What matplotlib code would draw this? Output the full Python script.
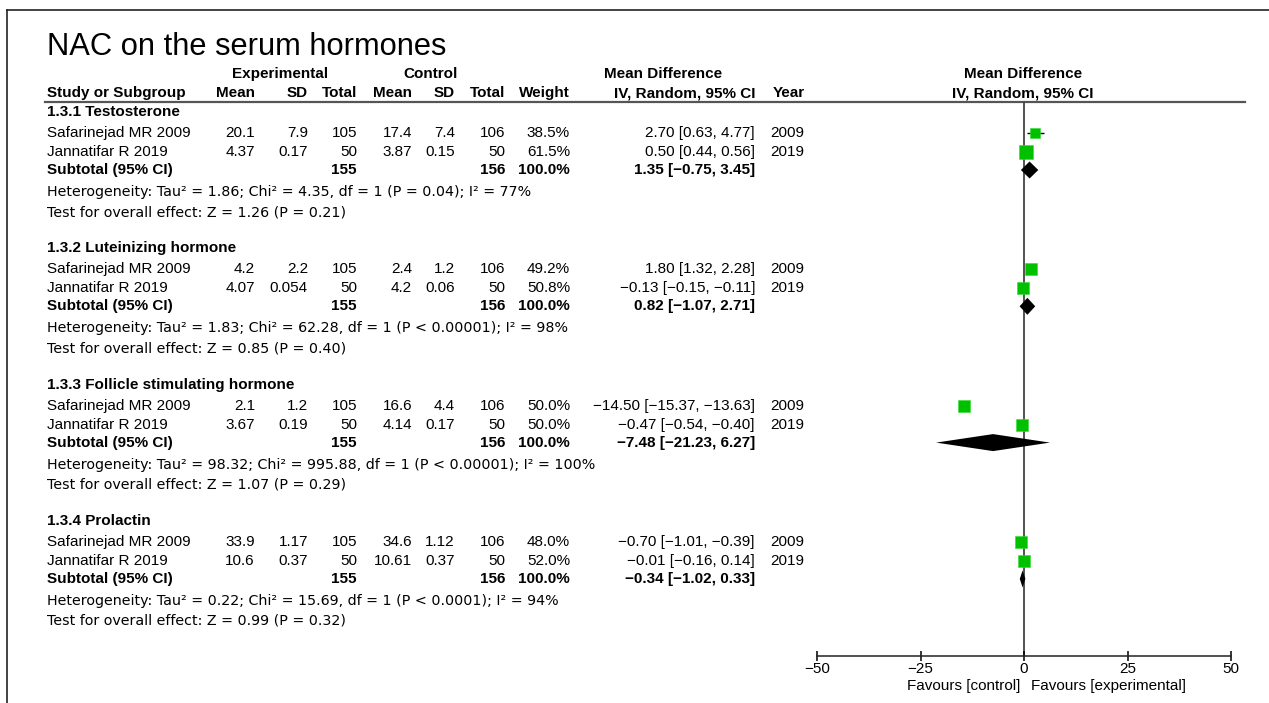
import numpy as np
import matplotlib
matplotlib.use('Agg')
import matplotlib.pyplot as plt

plt.rcParams['font.family'] = ['Liberation Sans', 'DejaVu Sans']

# ---- data ----
groups = ['1.3.1 Testosterone', '1.3.2 Luteinizing hormone',
          '1.3.3 Follicle stimulating hormone', '1.3.4 Prolactin']
studies = ['Safarinejad MR 2009', 'Jannatifar R 2019']
years = [2009, 2019]

exp_mean = [[20.1, 4.37], [4.2, 4.07], [2.1, 3.67], [33.9, 10.6]]
exp_sd = [[7.9, 0.17], [2.2, 0.054], [1.2, 0.19], [1.17, 0.37]]
exp_n = [[105, 50], [105, 50], [105, 50], [105, 50]]
ctrl_mean = [[17.4, 3.87], [2.4, 4.2], [16.6, 4.14], [34.6, 10.61]]
ctrl_sd = [[7.4, 0.15], [1.2, 0.06], [4.4, 0.17], [1.12, 0.37]]
ctrl_n = [[106, 50], [106, 50], [106, 50], [106, 50]]
weight = [[38.5, 61.5], [49.2, 50.8], [50.0, 50.0], [48.0, 52.0]]

md = [[2.70, 0.50], [1.80, -0.13], [-14.50, -0.47], [-0.70, -0.01]]
md_lo = [[0.63, 0.44], [1.32, -0.15], [-15.37, -0.54], [-1.01, -0.16]]
md_hi = [[4.77, 0.56], [2.28, -0.11], [-13.63, -0.40], [-0.39, 0.14]]

sub_md = [1.35, 0.82, -7.48, -0.34]
sub_lo = [-0.75, -1.07, -21.23, -1.02]
sub_hi = [3.45, 2.71, 6.27, 0.33]
sub_exp_n = [155, 155, 155, 155]
sub_ctrl_n = [156, 156, 156, 156]

tau2 = ['1.86', '1.83', '98.32', '0.22']
chi2 = ['4.35', '62.28', '995.88', '15.69']
het_p = ['P = 0.04', 'P < 0.00001', 'P < 0.00001', 'P < 0.0001']
i2 = ['77', '98', '100', '94']
z_val = ['1.26', '0.85', '1.07', '0.99']
z_p = ['0.21', '0.40', '0.29', '0.32']

xticks = [-50, -25, 0, 25, 50]

W, H = 1269, 703
FS = 11
GREEN = '#00c000'


def num(v):
    return f'{v:g}'


def mdtxt(m, l, h):
    s = f'{m:.2f} [{l:.2f}, {h:.2f}]'
    return s.replace('-', '\u2212')


fig = plt.figure(figsize=(W / 100, H / 100), dpi=100)
bg = fig.add_axes([0, 0, 1, 1])
bg.set_xlim(0, W)
bg.set_ylim(H, 0)
bg.axis('off')

# frame
bg.plot([7, 7], [10, H], color='#222222', lw=1.2)
bg.plot([7, W], [10, 10], color='#222222', lw=1.2)

bg.text(47, 55, 'NAC on the serum hormones', fontsize=22.2, ha='left', va='baseline')

# headers
hb = dict(fontsize=FS, fontweight='bold', va='baseline')
bg.text(280, 78, 'Experimental', ha='center', **hb)
bg.text(431, 78, 'Control', ha='center', **hb)
bg.text(663, 78, 'Mean Difference', ha='center', **hb)
bg.text(1023, 78, 'Mean Difference', ha='center', **hb)
bg.text(47, 97, 'Study or Subgroup', ha='left', **hb)
colx = [255, 308, 357, 412, 455, 505, 570]
for x, lab in zip(colx, ['Mean', 'SD', 'Total', 'Mean', 'SD', 'Total', 'Weight']):
    bg.text(x, 97, lab, ha='right', **hb)
bg.text(755, 97, 'IV, Random, 95% CI', ha='right', **hb)
bg.text(805, 97, 'Year', ha='right', **hb)
bg.text(1023, 97, 'IV, Random, 95% CI', ha='center', **hb)
bg.plot([45, 1245], [102, 102], color='#555555', lw=1.6)

# forest axis, y in pixel units shared with the background
x0, x1, ytop, ybot = 817, 1231, 102, 656
ax = fig.add_axes([x0 / W, (H - ybot) / H, (x1 - x0) / W, (ybot - ytop) / H])
ax.patch.set_alpha(0)
ax.set_xlim(xticks[0], xticks[-1])
ax.set_ylim(ybot, ytop)
for s in ['top', 'left', 'right']:
    ax.spines[s].set_visible(False)
ax.spines['bottom'].set_color('#222222')
ax.spines['bottom'].set_linewidth(1.1)
ax.set_yticks([])
ax.set_xticks(xticks)
ax.tick_params(axis='x', direction='inout', length=7, width=1.1, labelsize=FS, pad=1)
ax.axvline(0, color='#444444', lw=1.3, zorder=1)

bg.text(1020, 690, 'Favours [control]', ha='right', va='baseline', fontsize=FS)
bg.text(1031, 690, 'Favours [experimental]', ha='left', va='baseline', fontsize=FS)

g0, gstep = 112, 136.3
off = [0, 21, 40, 58, 80, 100]
base = 4  # baseline below row centre
note = dict(fontsize=10.3, va='baseline', family='DejaVu Sans')

for g in range(len(groups)):
    gy = g0 + g * gstep
    bg.text(47, gy + base, groups[g], fontsize=FS, fontweight='bold', va='baseline')
    for i in range(len(studies)):
        y = gy + off[1 + i]
        vals = [num(exp_mean[g][i]), num(exp_sd[g][i]), str(exp_n[g][i]),
                num(ctrl_mean[g][i]), num(ctrl_sd[g][i]), str(ctrl_n[g][i]),
                f'{weight[g][i]:.1f}%']
        bg.text(47, y + base, studies[i], fontsize=FS, va='baseline')
        for x, v in zip(colx, vals):
            bg.text(x, y + base, v, fontsize=FS, ha='right', va='baseline')
        bg.text(755, y + base, mdtxt(md[g][i], md_lo[g][i], md_hi[g][i]),
                fontsize=FS, ha='right', va='baseline')
        bg.text(804, y + base, str(years[i]), fontsize=FS, ha='right', va='baseline')
        # marks
        ax.hlines(y, md_lo[g][i], md_hi[g][i], color='black', lw=1.0, zorder=2)
        side = 1.7 * np.sqrt(weight[g][i]) * 0.72
        ax.scatter([md[g][i]], [y], marker='s', s=side ** 2, color=GREEN,
                   edgecolors='#33dd33', linewidths=0.4, zorder=3)
    # subtotal
    y = gy + off[3]
    sb = dict(fontsize=FS, fontweight='bold', va='baseline')
    bg.text(47, y + base, 'Subtotal (95% CI)', **sb)
    bg.text(colx[2], y + base, str(sub_exp_n[g]), ha='right', **sb)
    bg.text(colx[5], y + base, str(sub_ctrl_n[g]), ha='right', **sb)
    bg.text(colx[6], y + base, '100.0%', ha='right', **sb)
    bg.text(755, y + base, mdtxt(sub_md[g], sub_lo[g], sub_hi[g]), ha='right', **sb)
    hd = 8.5
    ax.fill([sub_lo[g], sub_md[g], sub_hi[g], sub_md[g]], [y, y - hd, y, y + hd],
            color='black', lw=0, zorder=4)
    # heterogeneity / overall effect
    bg.text(47, gy + off[4] + base,
            f'Heterogeneity: Tau\u00b2 = {tau2[g]}; Chi\u00b2 = {chi2[g]}, df = 1 ({het_p[g]}); I\u00b2 = {i2[g]}%',
            **note)
    bg.text(47, gy + off[5] + base,
            f'Test for overall effect: Z = {z_val[g]} (P = {z_p[g]})', **note)

fig.savefig('out.png', dpi=100)
